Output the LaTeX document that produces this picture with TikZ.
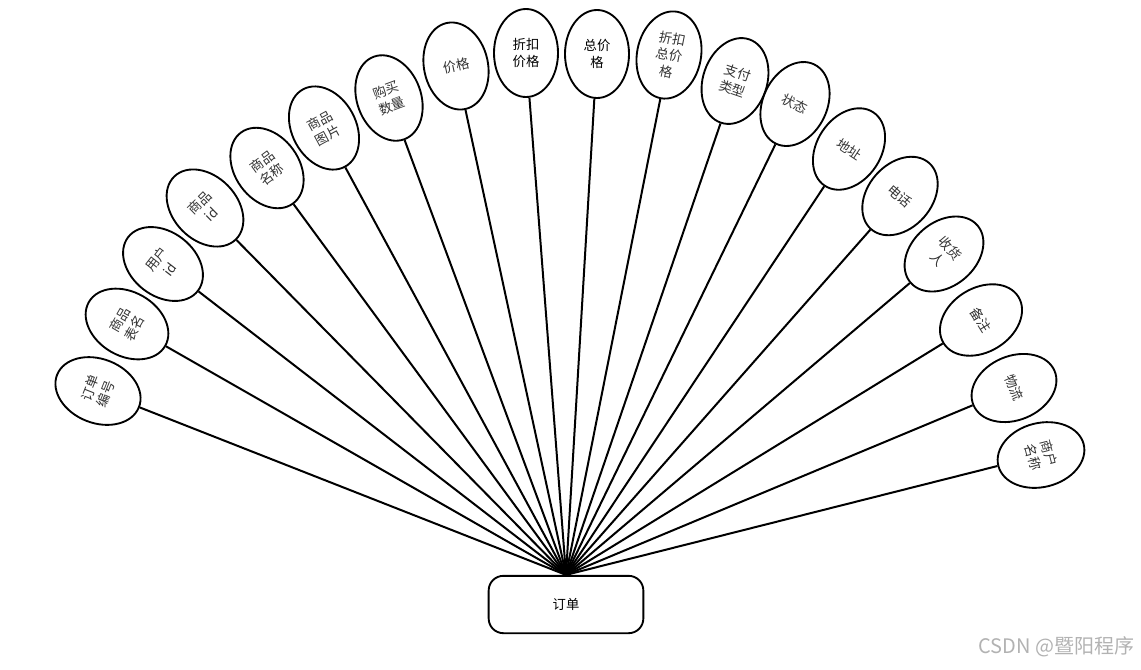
\documentclass[tikz,border=0pt]{standalone}
\usepackage{fontspec}
\usetikzlibrary{shapes.geometric}
\newfontfamily\cjk{Noto Sans CJK SC}

\begin{document}
\begin{tikzpicture}[x=0.75pt,y=-0.75pt,font=\cjk\fontsize{10}{12.5}\selectfont,
attr/.style={draw,ellipse,line width=1.4pt,align=center,inner sep=0pt,text=black!80,minimum width=48pt,minimum height=66pt},
ent/.style={draw,rounded corners=11pt,line width=1.4pt,minimum width=116pt,minimum height=43pt},
link/.style={line width=1.5pt}]
\useasboundingbox (0,0) rectangle (1141,669);
\node[ent](z) at (566,604.5){订单};
\node[attr,rotate=68.4](a) at (98,391){订单\\编号};
\node[attr,rotate=60.1](b) at (127,324){商品\\表名};
\node[attr,rotate=52.3](c) at (163,264){用户\\id};
\node[attr,rotate=44.5](d) at (205,208){商品\\id};
\node[attr,rotate=36.2](e) at (267,168){商品\\名称};
\node[attr,rotate=28.4](f) at (324,128){商品\\图片};
\node[attr,rotate=20.3](g) at (389,98){购买\\数量};
\node[attr,rotate=12.2](h) at (456,66){价格};
\node[attr,text=black](i) at (526,53){折扣\\价格};
\node[attr,text=black](j) at (597,54){总价\\格};
\node[attr,rotate=-11.2](k) at (669,55){折扣\\总价\\格};
\node[attr,rotate=-18.9](l) at (735,81){支付\\类型};
\node[attr,rotate=-25.9](m) at (795,104){状态};
\node[attr,rotate=-33.5](n) at (849,149){地址};
\node[attr,rotate=-41.3](o) at (900,196){电话};
\node[attr,rotate=-49.6](p) at (944,254){收货\\人};
\node[attr,rotate=-58.3](q) at (981,320){备注};
\node[attr,rotate=-67.2](r) at (1014,388){物流};
\node[attr,rotate=-75.7](s) at (1041,455){商户\\名称};
\draw[link](z.north)--(a);
\draw[link](z.north)--(b);
\draw[link](z.north)--(c);
\draw[link](z.north)--(d);
\draw[link](z.north)--(e);
\draw[link](z.north)--(f);
\draw[link](z.north)--(g);
\draw[link](z.north)--(h);
\draw[link](z.north)--(i);
\draw[link](z.north)--(j);
\draw[link](z.north)--(k);
\draw[link](z.north)--(l);
\draw[link](z.north)--(m);
\draw[link](z.north)--(n);
\draw[link](z.north)--(o);
\draw[link](z.north)--(p);
\draw[link](z.north)--(q);
\draw[link](z.north)--(r);
\draw[link](z.north)--(s);
\node[text=black!30,font=\cjk\fontsize{15}{17}\selectfont,anchor=south east](w) at (1139,662){CSDN @暨阳程序};
\end{tikzpicture}
\end{document}
